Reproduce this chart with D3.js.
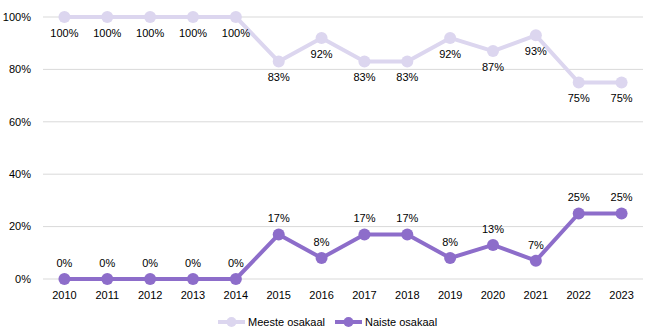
<!DOCTYPE html>
<html>
<head>
<meta charset="utf-8">
<script src="https://cdn.jsdelivr.net/npm/d3@7"></script>
<style>
  body { margin: 0; background: #fff; }
  text { font-family: "Liberation Sans", Arial, sans-serif; fill: #000; }
</style>
</head>
<body>
<svg id="chart" width="654" height="336"></svg>
<script>
const years = ["2010","2011","2012","2013","2014","2015","2016","2017","2018","2019","2020","2021","2022","2023"];
const meeste = [100,100,100,100,100,83,92,83,83,92,87,93,75,75];
const naiste = [0,0,0,0,0,17,8,17,17,8,13,7,25,25];
const yTicks = [0,20,40,60,80,100];

const width = 654, height = 336;
const margin = {top: 17, right: 11, bottom: 57, left: 43};

const svg = d3.select("#chart");

const x = d3.scaleBand()
    .domain(years)
    .range([margin.left, width - margin.right]);

const y = d3.scaleLinear()
    .domain([0, 100])
    .range([height - margin.bottom, margin.top]);

// gridlines
svg.append("g")
    .selectAll("line")
    .data(yTicks)
    .join("line")
    .attr("x1", margin.left)
    .attr("x2", width - margin.right)
    .attr("y1", d => y(d))
    .attr("y2", d => y(d))
    .attr("stroke", "#d9d9d9")
    .attr("stroke-width", 1);

// y axis labels
svg.append("g")
    .selectAll("text")
    .data(yTicks)
    .join("text")
    .attr("x", margin.left - 12)
    .attr("y", d => y(d))
    .attr("dy", "0.35em")
    .attr("text-anchor", "end")
    .attr("font-size", 11)
    .text(d => d + "%");

// x axis labels
svg.append("g")
    .selectAll("text")
    .data(years)
    .join("text")
    .attr("x", d => x(d) + x.bandwidth() / 2)
    .attr("y", y(0) + 16)
    .attr("dy", "0.35em")
    .attr("text-anchor", "middle")
    .attr("font-size", 11)
    .text(d => d);

const series = [
    {name: "Meeste osakaal", values: meeste, color: "#dcd6ef", labelDy: 16},
    {name: "Naiste osakaal", values: naiste, color: "#8d6dca", labelDy: -16}
];

const line = d3.line()
    .x((d, i) => x(years[i]) + x.bandwidth() / 2)
    .y(d => y(d));

series.forEach(s => {
    const g = svg.append("g");
    g.append("path")
        .datum(s.values)
        .attr("fill", "none")
        .attr("stroke", s.color)
        .attr("stroke-width", 4)
        .attr("stroke-linejoin", "round")
        .attr("d", line);
    g.selectAll("circle")
        .data(s.values)
        .join("circle")
        .attr("cx", (d, i) => x(years[i]) + x.bandwidth() / 2)
        .attr("cy", d => y(d))
        .attr("r", 6)
        .attr("fill", s.color);
    g.selectAll("text")
        .data(s.values)
        .join("text")
        .attr("x", (d, i) => x(years[i]) + x.bandwidth() / 2)
        .attr("y", d => y(d) + s.labelDy)
        .attr("dy", "0.35em")
        .attr("text-anchor", "middle")
        .attr("font-size", 11)
        .text(d => d + "%");
});

// legend
const legend = svg.append("g")
    .selectAll("g")
    .data(series)
    .join("g")
    .attr("transform", (d, i) => `translate(${218 + i * 117},322)`);

legend.append("line")
    .attr("x1", 0).attr("x2", 27)
    .attr("stroke", d => d.color)
    .attr("stroke-width", 4);
legend.append("circle")
    .attr("cx", 13.5)
    .attr("r", 5)
    .attr("fill", d => d.color);
legend.append("text")
    .attr("x", 30)
    .attr("dy", "0.35em")
    .attr("font-size", 11)
    .text(d => d.name);
</script>
</body>
</html>
